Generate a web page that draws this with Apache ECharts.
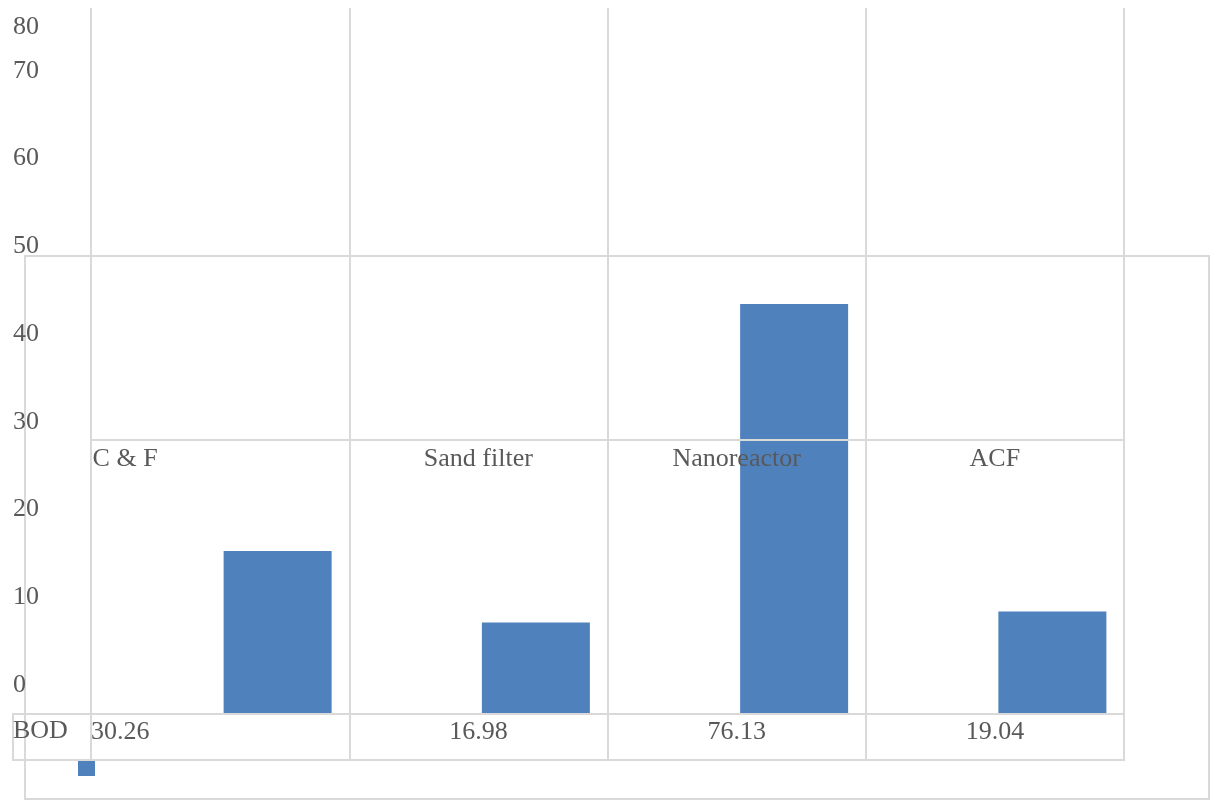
<!DOCTYPE html>
<html>
<head>
<meta charset="utf-8">
<title>BOD</title>
<script src="https://cdn.jsdelivr.net/npm/echarts@6/dist/echarts.min.js"></script>
<style>
  html, body { margin: 0; padding: 0; background: #ffffff; }
  #chart { width: 1211px; height: 800px; }
</style>
</head>
<body>
<div id="chart"></div>
<script>
// Treatment stages and their BOD values
const categories = ['C & F', 'Sand filter', 'Nanoreactor', 'ACF'];
const bodValues = [30.26, 16.98, 76.13, 19.04];
const seriesName = 'BOD';
// Value-axis tick labels
const yTickLabels = ['0', '10', '20', '30', '40', '50', '60', '70', '80'];

const FONT = "'Liberation Serif', 'Times New Roman', serif";
const TEXT = '#595959';
const LINE = '#d9d9d9';
const BAR = '#4F81BD';

// Tick positions on the label axis: evenly spaced, with the last one tucked half a step up
const yTickValues = yTickLabels.map(Number);
const yStep = yTickValues[1] - yTickValues[0];
const yTickPos = yTickValues.map((v, i) =>
  i === yTickValues.length - 1 ? yTickValues[i - 1] + yStep / 2 : v);

const chart = echarts.init(document.getElementById('chart'), null, { renderer: 'canvas' });

const hiddenCat = (gridIndex, extra) => Object.assign({
  type: 'category', gridIndex, data: categories, boundaryGap: true,
  axisLine: { show: false }, axisTick: { show: false }, axisLabel: { show: false },
  splitLine: { show: false }
}, extra || {});
const hiddenVal = (gridIndex, extra) => Object.assign({
  type: 'value', gridIndex, min: 0, max: 1,
  axisLine: { show: false }, axisTick: { show: false }, axisLabel: { show: false },
  splitLine: { show: false }
}, extra || {});

// First entry of a label row is drawn flush to the left of its column
const firstLeft = (padRight) => ({
  formatter: (v, i) => (i === 0 ? '{first|' + v + '}' : v),
  rich: { first: { fontFamily: FONT, fontSize: 26, color: TEXT, padding: [0, padRight, 0, 0] } }
});

const option = {
  backgroundColor: '#ffffff',
  animation: false,
  textStyle: { fontFamily: FONT },
  legend: {
    show: true, left: 78, top: 759, padding: 0, icon: 'rect', itemWidth: 17, itemHeight: 17,
    formatter: () => '', data: [seriesName], selectedMode: false,
    textStyle: { fontSize: 1 }
  },
  grid: [
    // 0: outer frame
    { left: 25, right: 2, top: 256, bottom: 1, show: true, borderColor: LINE, borderWidth: 2, backgroundColor: 'transparent', z: 5 },
    // 1: data-table box
    { left: 13, right: 87, top: 714, bottom: 40, show: true, borderColor: LINE, borderWidth: 2, backgroundColor: 'transparent', z: 5 },
    // 2: column separators
    { left: 91, right: 87, top: 8, bottom: 40 },
    // 3: category labels row
    { left: 91, right: 87, top: 8, bottom: 360 },
    // 4: data-table values
    { left: 91, right: 87, top: 714, bottom: 40 },
    // 5: value-axis labels
    { left: 91, right: 87, top: 27, bottom: 115 },
    // 6: bars
    { left: 148.5, right: 29.5, top: 304, bottom: 86 }
  ],
  xAxis: [
    hiddenCat(0),
    hiddenCat(1),
    hiddenCat(2, { z: 5, splitLine: { show: true, showMinLine: true, showMaxLine: true, lineStyle: { color: LINE, width: 2 } } }),
    hiddenCat(3, {
      z: 5,
      axisLine: { show: true, lineStyle: { color: LINE, width: 2 } },
      axisLabel: Object.assign({ show: true, interval: 0, margin: 6, fontFamily: FONT, fontSize: 26, color: TEXT }, firstLeft(190))
    }),
    hiddenCat(4, {
      z: 5, position: 'top', data: bodValues.map(String),
      axisLabel: Object.assign({ show: true, inside: true, interval: 0, margin: 5, fontFamily: FONT, fontSize: 26, color: TEXT }, firstLeft(200))
    }),
    hiddenCat(5),
    hiddenCat(6)
  ],
  yAxis: [
    hiddenVal(0),
    hiddenVal(1),
    hiddenVal(2),
    hiddenVal(3),
    {
      type: 'category', gridIndex: 4, data: [seriesName], z: 5,
      axisLine: { show: false }, axisTick: { show: false }, splitLine: { show: false },
      axisLabel: {
        show: true, align: 'left', margin: 78, fontFamily: FONT, fontSize: 26, color: TEXT,
        formatter: (v) => '{row|' + v + '}',
        rich: { row: { fontFamily: FONT, fontSize: 26, color: TEXT, padding: [0, 0, 11, 0] } }
      }
    },
    {
      type: 'value', gridIndex: 5, min: 0, max: yTickPos[yTickPos.length - 1], z: 5,
      axisLine: { show: false }, axisTick: { show: false }, splitLine: { show: false },
      axisLabel: {
        show: true, align: 'left', margin: 78, fontFamily: FONT, fontSize: 26, color: TEXT,
        customValues: yTickPos,
        formatter: (v) => yTickLabels[yTickPos.indexOf(v)]
      }
    },
    hiddenVal(6, { min: 0, max: 'dataMax' })
  ],
  series: [{
    name: seriesName,
    type: 'bar',
    xAxisIndex: 6, yAxisIndex: 6,
    data: bodValues,
    barWidth: 108,
    z: 1,
    itemStyle: { color: BAR }
  }]
};

chart.setOption(option);
</script>
</body>
</html>
